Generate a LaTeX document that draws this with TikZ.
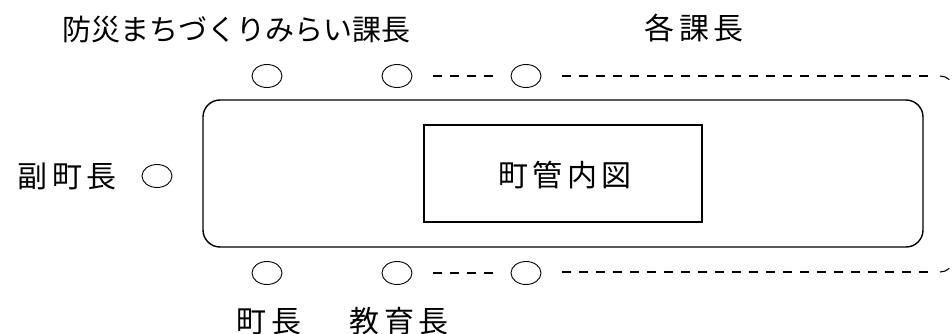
\documentclass[tikz,border=0pt]{standalone}
\usepackage{fontspec}
\newfontfamily\cjk{Noto Sans CJK JP}
\newfontfamily\cjkwide[LetterSpace=15]{Noto Sans CJK JP}
\usetikzlibrary{shapes.geometric}
\tikzset{
  mark circ/.style={draw, ellipse, line width=0.9pt, minimum width=30pt, minimum height=23pt, inner sep=0pt},
  lbl/.style={anchor=base, inner sep=0pt, font=\cjkwide\fontsize{30}{30}\selectfont},
  lbltight/.style={anchor=base, inner sep=0pt, font=\cjk\fontsize{29}{29}\selectfont},
  dashline/.style={line width=1.1pt, dash pattern=on 9pt off 8pt},
  cornerline/.style={line width=1.1pt},
  boxline/.style={line width=1.4pt}
}
\begin{document}
\begin{tikzpicture}[x=1pt,y=-1pt]
\useasboundingbox (0,0) rectangle (952,334);
% labels
\node[lbltight] (t1) at (236,41) {防災まちづくりみらい課長};
\node[lbl] (t2) at (694,40) {各課長};
\node[lbl] (t3) at (67,187) {副町長};
\node[lbl] (t4) at (269,332) {町長};
\node[lbl] (t5) at (399,332) {教育長};
% circles
\node[mark circ] (a1) at (267,76) {};
\node[mark circ] (a2) at (397,76) {};
\node[mark circ] (a3) at (526,76) {};
\node[mark circ] (b1) at (267,273) {};
\node[mark circ] (b2) at (397,273) {};
\node[mark circ] (b3) at (526,273) {};
\node[mark circ] (v) at (157,176) {};
% table
\draw[boxline, rounded corners=17pt] (203,100) rectangle (923,247);
\node[draw, boxline, minimum width=278pt, minimum height=97pt, inner sep=0pt] (map) at (563,173.5) {};
\node[lbl] (maptxt) at (565,186) {町管内図};
% dashed connectors
\draw[dashline] ([xshift=21pt]a2.east) -- ([xshift=-17pt]a3.west);
\draw[dashline] ([xshift=21pt]b2.east) -- ([xshift=-17pt]b3.west);
\coordinate (rt) at (935,76);
\coordinate (rb) at (935,272);
\coordinate (ct) at (940,76);
\coordinate (cb) at (940,272);
\draw[dashline] ([xshift=21pt]a3.east) -- (rt);
\draw[dashline] ([xshift=21pt]b3.east |- rb) -- (rb);
\draw[cornerline] (ct) arc[start angle=90, end angle=48, radius=14pt];
\draw[cornerline] (cb) arc[start angle=-90, end angle=-48, radius=14pt];
\end{tikzpicture}
\end{document}
